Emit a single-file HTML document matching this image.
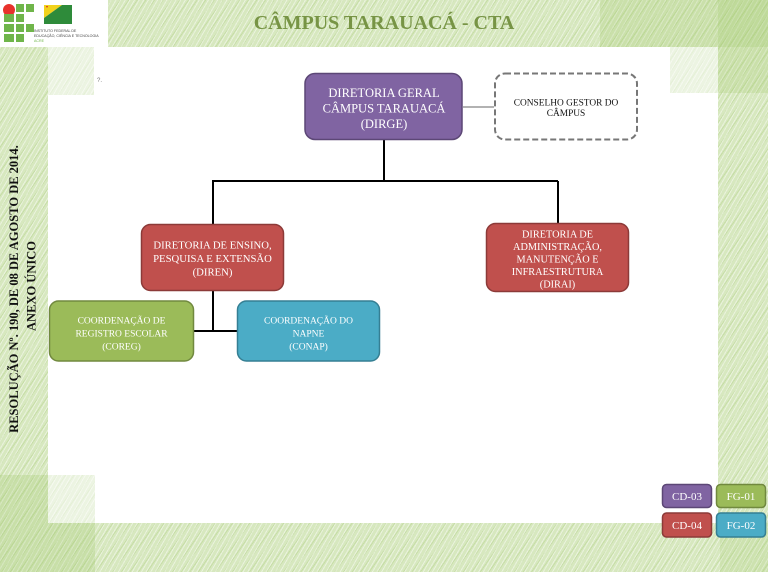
<!DOCTYPE html>
<html><head><meta charset="utf-8">
<style>
html,body{margin:0;padding:0;}
body{width:768px;height:572px;overflow:hidden;position:relative;background:#d9e9c2;}
.abs{position:absolute;}
.hatch{background-color:#d7e8bf;background-image:
 repeating-linear-gradient(120deg, rgba(255,255,255,0.45) 0 1px, transparent 1px 4px),
 repeating-linear-gradient(125deg, rgba(150,190,95,0.25) 0 1px, transparent 1px 7px);}
</style></head>
<body>
<div class="abs hatch" style="left:0;top:0;width:768px;height:572px;"></div>
<!-- darker patches -->
<div class="abs" style="left:600px;top:0;width:168px;height:47px;background:rgba(150,195,90,0.2);"></div>
<div class="abs" style="left:718px;top:0;width:50px;height:93px;background:rgba(150,195,90,0.2);"></div>
<div class="abs" style="left:0;top:475px;width:95px;height:97px;background:rgba(140,190,80,0.2);"></div>
<div class="abs" style="left:720px;top:523px;width:48px;height:49px;background:rgba(150,195,90,0.15);"></div>
<!-- white content area -->
<div class="abs" style="left:48px;top:47px;width:670px;height:476px;background:#fff;"></div>
<div class="abs hatch" style="left:48px;top:47px;width:46px;height:48px;opacity:0.45;"></div>
<div class="abs hatch" style="left:670px;top:47px;width:48px;height:46px;opacity:0.45;"></div>
<div class="abs hatch" style="left:48px;top:475px;width:47px;height:48px;opacity:0.45;"></div>
<!-- logo box -->
<div class="abs" style="left:0;top:0;width:108px;height:47px;background:#fff;"></div>

<svg class="abs" style="left:0;top:0" width="768" height="572" xmlns="http://www.w3.org/2000/svg">
 <!-- IF logo -->
 <circle cx="9" cy="10" r="6" fill="#e8312c"/>
 <g fill="#6fb54a">
  <rect x="16" y="4" width="8" height="8"/><rect x="26" y="4" width="8" height="8"/>
  <rect x="4" y="14" width="10" height="8"/><rect x="16" y="14" width="8" height="8"/>
  <rect x="4" y="24" width="10" height="8"/><rect x="16" y="24" width="8" height="8"/><rect x="26" y="24" width="8" height="8"/>
  <rect x="4" y="34" width="10" height="8"/><rect x="16" y="34" width="8" height="8"/>
 </g>
 <!-- Acre flag -->
 <polygon points="44,5 72,5 72,24 44,24" fill="#fff"/>
 <polygon points="44,5 62,5 44,18" fill="#f2d21b"/>
 <polygon points="44,18 62,5 72,5 72,24 44,24" fill="#2e8b3a"/>
 <polygon points="46,6 48,6 47,8" fill="#d22"/>
 <text x="34" y="32" font-family="Liberation Sans, sans-serif" font-size="3.6" fill="#444">INSTITUTO FEDERAL DE</text>
 <text x="34" y="37" font-family="Liberation Sans, sans-serif" font-size="3.6" fill="#444">EDUCAÇÃO, CIÊNCIA E TECNOLOGIA</text>
 <text x="34" y="42" font-family="Liberation Sans, sans-serif" font-size="3.6" fill="#6fb54a">ACRE</text>

 <!-- Title -->
 <text x="384" y="29" text-anchor="middle" font-family="Liberation Serif, serif" font-weight="bold" font-size="20" fill="#779445">CÂMPUS TARAUACÁ - CTA</text>

 <!-- vertical text -->
 <g font-family="Liberation Serif, serif" font-weight="bold" font-size="12.5" fill="#111" text-anchor="middle">
  <text transform="translate(18,289) rotate(-90)">RESOLUÇÃO Nº. 190, DE 08 DE AGOSTO DE 2014.</text>
  <text transform="translate(35.5,286) rotate(-90)">ANEXO ÚNICO</text>
 </g>

 <text x="97" y="82" font-family="Liberation Sans, sans-serif" font-size="6" fill="#777">?.</text>

 <!-- connectors -->
 <line x1="463" y1="107" x2="494" y2="107" stroke="#999" stroke-width="1.5"/>
 <g stroke="#000" stroke-width="2" fill="none">
  <line x1="384" y1="140" x2="384" y2="181"/>
  <line x1="212" y1="181" x2="558" y2="181"/>
  <line x1="213" y1="181" x2="213" y2="224"/>
  <line x1="558" y1="181" x2="558" y2="223"/>
  <line x1="213" y1="291" x2="213" y2="331"/>
  <line x1="194" y1="331" x2="237" y2="331"/>
 </g>

 <!-- DIRGE -->
 <rect x="305" y="73.5" width="157" height="66" rx="10" fill="#8064a2" stroke="#5c4776" stroke-width="1.5"/>
 <g font-family="Liberation Serif, serif" font-size="12.5" fill="#fff" text-anchor="middle">
  <text x="384" y="97">DIRETORIA GERAL</text>
  <text x="384" y="112.5">CÂMPUS TARAUACÁ</text>
  <text x="384" y="128">(DIRGE)</text>
 </g>

 <!-- Conselho -->
 <rect x="495" y="73.5" width="142" height="66" rx="10" fill="#fff" stroke="#777" stroke-width="2" stroke-dasharray="6 3"/>
 <g font-family="Liberation Serif, serif" font-size="9.4" fill="#111" text-anchor="middle">
  <text x="566" y="105.5">CONSELHO GESTOR DO</text>
  <text x="566" y="116">CÂMPUS</text>
 </g>

 <!-- DIREN -->
 <rect x="141.5" y="224.5" width="142" height="66" rx="9" fill="#c0504d" stroke="#8c3a38" stroke-width="1.5"/>
 <g font-family="Liberation Serif, serif" font-size="10.7" fill="#fff" text-anchor="middle">
  <text x="212.5" y="248.5">DIRETORIA DE ENSINO,</text>
  <text x="212.5" y="262">PESQUISA E EXTENSÃO</text>
  <text x="212.5" y="275.5">(DIREN)</text>
 </g>

 <!-- DIRAI -->
 <rect x="486.5" y="223.5" width="142" height="68" rx="9" fill="#c0504d" stroke="#8c3a38" stroke-width="1.5"/>
 <g font-family="Liberation Serif, serif" font-size="10.3" fill="#fff" text-anchor="middle">
  <text x="557.5" y="237.5">DIRETORIA DE</text>
  <text x="557.5" y="250">ADMINISTRAÇÃO,</text>
  <text x="557.5" y="262.5">MANUTENÇÃO E</text>
  <text x="557.5" y="275">INFRAESTRUTURA</text>
  <text x="557.5" y="287.5">(DIRAI)</text>
 </g>

 <!-- COREG -->
 <rect x="49.5" y="301" width="144" height="60" rx="9" fill="#9bbb59" stroke="#71893f" stroke-width="1.5"/>
 <g font-family="Liberation Serif, serif" font-size="9.5" fill="#fff" text-anchor="middle">
  <text x="121.5" y="323.5">COORDENAÇÃO DE</text>
  <text x="121.5" y="336.5">REGISTRO ESCOLAR</text>
  <text x="121.5" y="349.5">(COREG)</text>
 </g>

 <!-- CONAP -->
 <rect x="237.5" y="301" width="142" height="60" rx="9" fill="#4bacc6" stroke="#357f93" stroke-width="1.5"/>
 <g font-family="Liberation Serif, serif" font-size="9.5" fill="#fff" text-anchor="middle">
  <text x="308.5" y="323.5">COORDENAÇÃO DO</text>
  <text x="308.5" y="336.5">NAPNE</text>
  <text x="308.5" y="349.5">(CONAP)</text>
 </g>

 <!-- legend badges -->
 <rect x="662.5" y="484.5" width="49" height="23" rx="4" fill="#8064a2" stroke="#5c4776" stroke-width="1.5"/>
 <rect x="716.5" y="484.5" width="49" height="23" rx="4" fill="#9bbb59" stroke="#71893f" stroke-width="1.5"/>
 <rect x="662.5" y="513" width="49" height="24" rx="4" fill="#c0504d" stroke="#8c3a38" stroke-width="1.5"/>
 <rect x="716.5" y="513" width="49" height="24" rx="4" fill="#4bacc6" stroke="#357f93" stroke-width="1.5"/>
 <g font-family="Liberation Serif, serif" font-size="11" fill="#fff" text-anchor="middle">
  <text x="687" y="500">CD-03</text>
  <text x="741" y="500">FG-01</text>
  <text x="687" y="529">CD-04</text>
  <text x="741" y="529">FG-02</text>
 </g>
</svg>
</body></html>
